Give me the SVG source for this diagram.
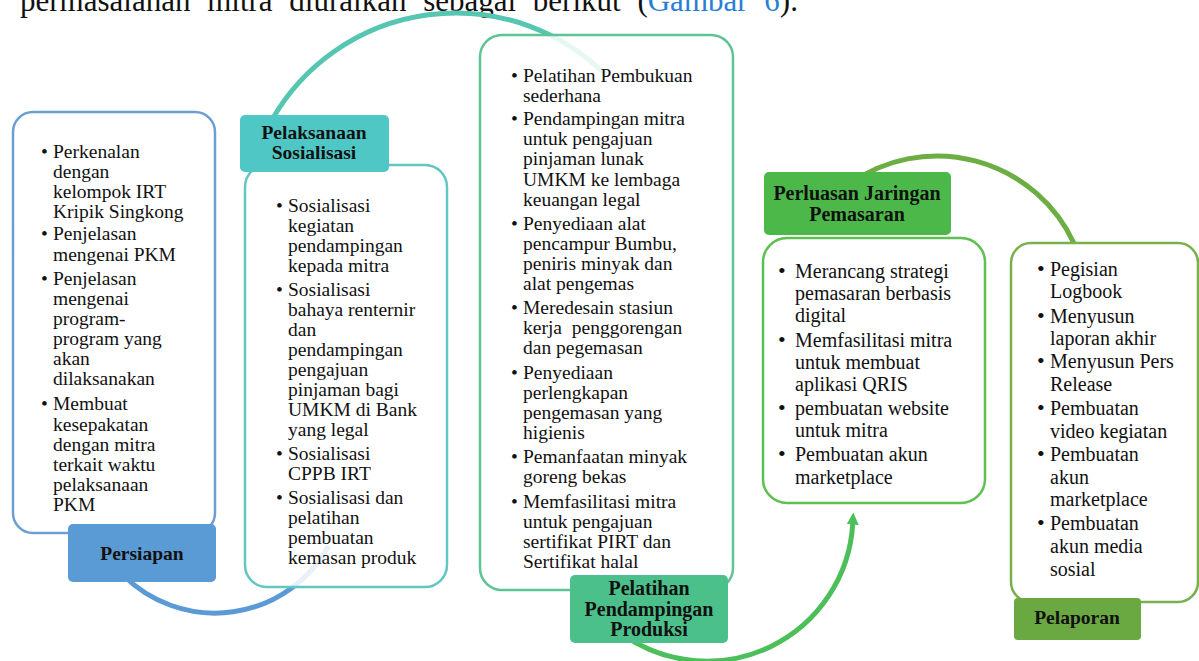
<svg xmlns="http://www.w3.org/2000/svg" width="1199" height="661" viewBox="0 0 1199 661">
<defs>
<style>
.t{font-family:"Liberation Serif","Times New Roman",serif;font-size:19.5px;fill:#111;}
.t2{font-family:"Liberation Serif","Times New Roman",serif;font-size:20px;fill:#111;}
.bl{font-family:"Liberation Serif","Times New Roman",serif;font-size:19.5px;fill:#111;font-weight:bold;text-anchor:middle;}
.bl2{font-size:20px;}
.box{fill:#fff;fill-opacity:0.86;stroke-width:2.5;}
.arc{fill:none;stroke-width:5;stroke-linecap:butt;}
.big{font-size:22px;}
</style>
<marker id="ah" markerUnits="userSpaceOnUse" markerWidth="14" markerHeight="14" refX="2" refY="7" orient="auto">
<path d="M0,1 L12,7 L0,13 Z" fill="#4cbe5a"/>
</marker>
</defs>
<rect width="1199" height="661" fill="#fff"/>
<g id="caption">
<text x="20" y="11" font-family="'Liberation Serif','Times New Roman',serif" font-size="31" fill="#111" word-spacing="9">permasalahan mitra diuraikan sebagai berikut (<tspan fill="#2a7fd4">Gambar 6</tspan>).</text>
</g>
<g id="connectors">
<path class="arc" stroke="#5b9bd5" d="M123,575 A130,130 0 0 0 328.7,546"/>
<path class="arc" stroke="#56c6b2" d="M272.4,119 A212,212 0 0 1 605.9,75.1"/>
<path class="arc" stroke="#4cbe5a" d="M623,634.6 A146,146 0 0 0 852.8,522.6" marker-end="url(#ah)"/>
<path class="arc" stroke="#6cae43" d="M850.4,183.3 A151,151 0 0 1 1073.9,243.2"/>
</g>
<g id="persiapan">
<rect class="box" x="13" y="112" width="202" height="421" rx="20" stroke="#6d9ed3"/>
<g class="t">
<text x="41" y="158">•</text><text x="53" y="158">Perkenalan</text>
<text x="53" y="178">dengan</text>
<text x="53" y="198">kelompok IRT</text>
<text x="53" y="218">Kripik Singkong</text>
<text x="41" y="240">•</text><text x="53" y="240">Penjelasan</text>
<text x="53" y="261">mengenai PKM</text>
<text x="41" y="285">•</text><text x="53" y="285">Penjelasan</text>
<text x="53" y="305">mengenai</text>
<text x="53" y="325">program-</text>
<text x="53" y="345">program yang</text>
<text x="53" y="365">akan</text>
<text x="53" y="385">dilaksanakan</text>
<text x="41" y="410">•</text><text x="53" y="410">Membuat</text>
<text x="53" y="431">kesepakatan</text>
<text x="53" y="451">dengan mitra</text>
<text x="53" y="471">terkait waktu</text>
<text x="53" y="491">pelaksanaan</text>
<text x="53" y="511">PKM</text>
</g>
<rect x="68" y="524" width="148" height="58" rx="5" fill="#5b9bd5"/>
<text class="bl" x="142" y="560">Persiapan</text>
</g>
<g id="sosialisasi">
<rect class="box" x="245" y="165" width="202" height="422" rx="22" stroke="#62c6c2"/>
<g class="t">
<text x="276" y="212">•</text><text x="288" y="212">Sosialisasi</text>
<text x="288" y="232">kegiatan</text>
<text x="288" y="252">pendampingan</text>
<text x="288" y="272">kepada mitra</text>
<text x="276" y="296">•</text><text x="288" y="296">Sosialisasi</text>
<text x="288" y="316">bahaya renternir</text>
<text x="288" y="336">dan</text>
<text x="288" y="356">pendampingan</text>
<text x="288" y="376">pengajuan</text>
<text x="288" y="396">pinjaman bagi</text>
<text x="288" y="416">UMKM di Bank</text>
<text x="288" y="436">yang legal</text>
<text x="276" y="460">•</text><text x="288" y="460">Sosialisasi</text>
<text x="288" y="480">CPPB IRT</text>
<text x="276" y="504">•</text><text x="288" y="504">Sosialisasi dan</text>
<text x="288" y="524">pelatihan</text>
<text x="288" y="544">pembuatan</text>
<text x="288" y="564">kemasan produk</text>
</g>
<rect x="240" y="115" width="149" height="57" rx="5" fill="#4fc7c4"/>
<text class="bl" x="314" y="139">Pelaksanaan</text>
<text class="bl" x="314" y="159">Sosialisasi</text>
</g>
<g id="pelatihan">
<rect class="box" x="480" y="35" width="253" height="555" rx="22" stroke="#5ec395"/>
<g class="t">
<text x="511" y="82">•</text><text x="523" y="82">Pelatihan Pembukuan</text>
<text x="523" y="102">sederhana</text>
<text x="511" y="125">•</text><text x="523" y="125">Pendampingan mitra</text>
<text x="523" y="145">untuk pengajuan</text>
<text x="523" y="165">pinjaman lunak</text>
<text x="523" y="186">UMKM ke lembaga</text>
<text x="523" y="206">keuangan legal</text>
<text x="511" y="230">•</text><text x="523" y="230">Penyediaan alat</text>
<text x="523" y="250">pencampur Bumbu,</text>
<text x="523" y="270">peniris minyak dan</text>
<text x="523" y="290">alat pengemas</text>
<text x="511" y="314">•</text><text x="523" y="314">Meredesain stasiun</text>
<text x="523" y="334" style="white-space:pre">kerja  penggorengan</text>
<text x="523" y="354">dan pegemasan</text>
<text x="511" y="379">•</text><text x="523" y="379">Penyediaan</text>
<text x="523" y="399">perlengkapan</text>
<text x="523" y="419">pengemasan yang</text>
<text x="523" y="439">higienis</text>
<text x="511" y="463">•</text><text x="523" y="463">Pemanfaatan minyak</text>
<text x="523" y="483">goreng bekas</text>
<text x="511" y="508">•</text><text x="523" y="508">Memfasilitasi mitra</text>
<text x="523" y="528">untuk pengajuan</text>
<text x="523" y="548">sertifikat PIRT dan</text>
<text x="523" y="568">Sertifikat halal</text>
</g>
<rect x="570" y="575" width="158" height="68" rx="5" fill="#4cc08a"/>
<text class="bl bl2" x="649" y="595">Pelatihan</text>
<text class="bl bl2" x="649" y="615.5">Pendampingan</text>
<text class="bl bl2" x="649" y="636">Produksi</text>
</g>
<g id="pemasaran">
<rect class="box" x="763" y="238" width="222" height="265" rx="24" stroke="#5ec050"/>
<g class="t2">
<text class="big" x="778" y="278">•</text><text x="795" y="278">Merancang strategi</text>
<text x="795" y="300">pemasaran berbasis</text>
<text x="795" y="322">digital</text>
<text class="big" x="778" y="347">•</text><text x="795" y="347">Memfasilitasi mitra</text>
<text x="795" y="369">untuk membuat</text>
<text x="795" y="391">aplikasi QRIS</text>
<text class="big" x="778" y="415">•</text><text x="795" y="415">pembuatan website</text>
<text x="795" y="437">untuk mitra</text>
<text class="big" x="778" y="461">•</text><text x="795" y="461">Pembuatan akun</text>
<text x="795" y="484">marketplace</text>
</g>
<rect x="764" y="172" width="187" height="63" rx="5" fill="#4cb84a"/>
<text class="bl bl2" x="857" y="200">Perluasan Jaringan</text>
<text class="bl bl2" x="857" y="220.5">Pemasaran</text>
</g>
<g id="pelaporan">
<rect class="box" x="1011" y="243" width="187" height="359" rx="20" stroke="#77b04c"/>
<g class="t2">
<text class="big" x="1037" y="276">•</text><text x="1050" y="276">Pegisian</text>
<text x="1050" y="298">Logbook</text>
<text class="big" x="1037" y="323">•</text><text x="1050" y="323">Menyusun</text>
<text x="1050" y="345">laporan akhir</text>
<text class="big" x="1037" y="368">•</text><text x="1050" y="368">Menyusun Pers</text>
<text x="1050" y="391">Release</text>
<text class="big" x="1037" y="415">•</text><text x="1050" y="415">Pembuatan</text>
<text x="1050" y="438">video kegiatan</text>
<text class="big" x="1037" y="461">•</text><text x="1050" y="461">Pembuatan</text>
<text x="1050" y="484">akun</text>
<text x="1050" y="506">marketplace</text>
<text class="big" x="1037" y="530">•</text><text x="1050" y="530">Pembuatan</text>
<text x="1050" y="553">akun media</text>
<text x="1050" y="576">sosial</text>
</g>
<rect x="1014" y="598" width="127" height="42" rx="4" fill="#6aa842"/>
<text class="bl" x="1077" y="624">Pelaporan</text>
</g>
</svg>
